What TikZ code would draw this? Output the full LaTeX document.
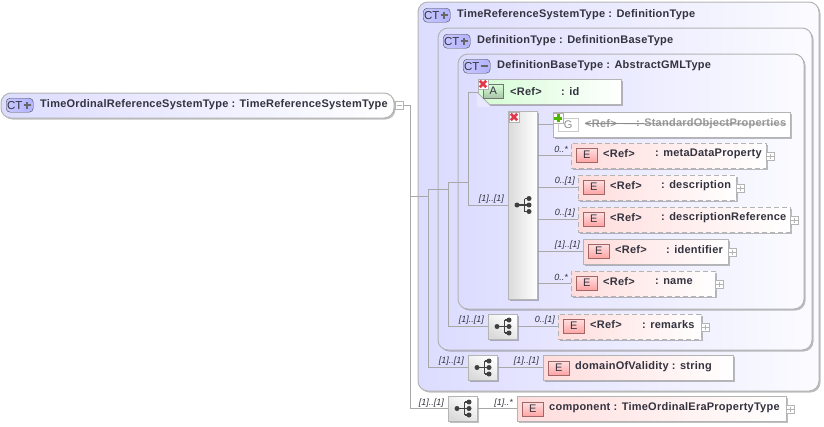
\documentclass[tikz,border=0pt]{standalone}
\usepackage{fontspec}
\setmainfont{Liberation Sans}
\newfontfamily\lblfont[LetterSpace=2.2]{Liberation Sans}
\usetikzlibrary{shadows}
\definecolor{txtcol}{HTML}{33333F}
\definecolor{linecol}{HTML}{A8A8A8}
\definecolor{boxedge}{HTML}{B4B4B4}
\definecolor{ctleft}{HTML}{DCDCFF}
\definecolor{ctright}{HTML}{FBFBFF}
\definecolor{elemleft}{HTML}{FFDCDC}
\definecolor{attrleft}{HTML}{D4FCD4}
\definecolor{seqdark}{HTML}{DADADA}
\definecolor{xred}{HTML}{E03848}
\tikzset{
  softshadow/.style={drop shadow={shadow xshift=1.5pt,shadow yshift=-1.5pt,fill=black,opacity=.25}},
  conn/.style={draw=linecol,line width=.8pt},
  boxbase/.style={anchor=north west,inner sep=0,outer sep=0,minimum height=25,softshadow},
  container/.style={boxbase,draw=boxedge,line width=1pt,rounded corners=10,left color=ctleft,right color=ctright},
  elembox/.style={boxbase,draw=boxedge,line width=.8pt,left color=elemleft,right color=white},
  optelem/.style={elembox,dash pattern=on 5pt off 3pt},
  seqbox/.style={boxbase,draw=boxedge,line width=.8pt,top color=white,bottom color=seqdark,shading angle=-30},
  lbl/.style={anchor=west,inner sep=0,text=txtcol,font=\fontsize{11}{12}\lblfont\bfseries},
  cardlab/.style={anchor=east,inner sep=0,text=txtcol,font=\fontsize{9}{10}\selectfont\itshape},
  ebadge/.style={anchor=north west,inner sep=0,minimum width=21,minimum height=14,draw=black!60!red!60,
    top color=red!12,bottom color=red!36,text=txtcol,font=\fontsize{11}{12}\selectfont},
  ctbadge/.style={anchor=north west,inner sep=0,minimum width=27,minimum height=14,rounded corners=4,draw=black!70,
    left color=blue!22,right color=blue!30,text=txtcol,font=\fontsize{11.5}{12}\selectfont},
  signmark/.style={draw=black!60,line width=1.8pt},
  expbox/.style={inner sep=0,minimum size=8,draw=boxedge,fill=white,anchor=north west},
  expline/.style={draw=boxedge,line width=.7pt,shorten <=1.5pt,shorten >=1.5pt},
  iconbox/.style={inner sep=0,minimum size=10,anchor=north west,draw=black!30,fill=white},
  seqicon/.pic={
    \draw[black!75,line width=1.2pt] (-5.5,0) -- (2,0) (2,-6.5) -- (2,6.5) (2,-6.5) -- (6.5,-6.5) (2,6.5) -- (6.5,6.5) (2,0) -- (6.5,0);
    \fill[black!75] (-5.5,0) circle (2.5);
    \foreach \ry in {-6.5,0,6.5} \fill[black!75] (6.5,\ry) circle (2.5);
  }
}
\begin{document}
\begin{tikzpicture}[x=1pt,y=-1pt]
  \useasboundingbox (0,0) rectangle (824,426);

  % nested complex types
  \node[container,minimum width=401,minimum height=389] (outer) at (418,2) {};
  \node[container,minimum width=374,minimum height=322] (middle) at (438,28) {};
  \node[container,minimum width=346,minimum height=255] (inner) at (458,54) {};

  % root
  \node[container,right color=white,minimum width=393,minimum height=25] (root) at (1,93) {};
  \node[expbox] (rootexp) at (395,101) {};
  \draw[expline] (rootexp.west) -- (rootexp.east);

  % trunks
  \coordinate (t1) at (410,196);
  \coordinate (t2) at (428,189);
  \coordinate (t3) at (448,182);
  \coordinate (t4) at (468,92);
  \coordinate (t5) at (468,205);

  % sequence boxes
  \node[seqbox,left color=seqdark,right color=white,shading angle=90,minimum width=29,minimum height=188] (bigseq) at (508,111) {};
  \node[seqbox,minimum width=29] (remseq) at (488,314) {};
  \node[seqbox,minimum width=29] (domseq) at (468,355) {};
  \node[seqbox,minimum width=29] (comseq) at (448,396) {};
  \pic at (bigseq.center) {seqicon};
  \pic at (remseq.center) {seqicon};
  \pic at (domseq.center) {seqicon};
  \pic at (comseq.center) {seqicon};

  % attribute
  \node[boxbase,minimum width=143,draw=boxedge,line width=.8pt,left color=attrleft,right color=white] (attr) at (478,79) {};
  \fill[ctleft!70!white] (477,93) -- (477,107) -- (491,107) -- cycle;
  \draw[boxedge,line width=.8pt] (478,93) -- (489,104);
  \node[anchor=north west,inner sep=0,minimum width=20,minimum height=14,draw=black!55,top color=green!15,bottom color=green!35!black!35,
    text=txtcol,font=\fontsize{11}{12}\selectfont] (abadge) at (483,84) {A};
  \node[lbl] (attrref) at (510,91.5) {<Ref>};
  \node[lbl] (attrname) at (561,91.5) {: id};

  % connectors
  \draw[conn] (rootexp.east) -| (comseq.west -| t1) -- (comseq.west);
  \draw[conn] (t1) -- (428,196);
  \draw[conn] (t2) -- (domseq.west -| t2) -- (domseq.west);
  \draw[conn] (t2) -- (448,189);
  \draw[conn] (t3) -- (remseq.west -| t3) -- (remseq.west);
  \draw[conn] (t3) -- (468,182);
  \draw[conn] (t4) -- (t5) -- (bigseq.west |- t5);
  \draw[conn] (t4) -- (attr.west |- t4);

  % group
  \node[boxbase,minimum width=237,draw=boxedge,line width=.8pt,fill=white] (grp) at (553,112) {};
  \draw[conn] (bigseq.east |- grp.west) -- (grp.west);
  \node[anchor=north west,inner sep=0,minimum width=20,minimum height=13,draw=black!20,fill=white,text=black!45,font=\fontsize{11}{12}\selectfont] (gbadge) at (558,118) {G};
  \node[lbl,text=black!40] (grpref) at (585,123.5) {<Ref>};
  \node[lbl,text=black!40] (grpname) at (636,123.5) {: StandardObjectProperties};
  \draw[black!45,line width=.8pt] (grpref.west) -- (786,124);

  % elements
  \foreach \nm/\x/\y/\w/\sty/\card/\ref/\txt/\gap in {
    meta/571/143/195/optelem/{0..*}/{<Ref>}/{: metaDataProperty}/84,
    descr/578/175/158/optelem/{0..[1]}/{<Ref>}/{: description}/83,
    descref/578/207/212/optelem/{0..[1]}/{<Ref>}/{: descriptionReference}/83,
    ident/583/239/145/elembox/{[1]..[1]}/{<Ref>}/{: identifier}/83,
    name/571/271/144/optelem/{0..*}/{<Ref>}/{: name}/84,
    remarks/558/314/143/optelem/{0..[1]}/{<Ref>}/{: remarks}/84}
  {
    \node[\sty,minimum width=\w] (\nm) at (\x,\y) {};
    \node[ebadge] (e\nm) at ({\x+5},{\y+5}) {E};
    \node[lbl] (r\nm) at ({\x+32},{\y+11}) {\ref};
    \node[lbl] (t\nm) at ({\x+\gap},{\y+11}) {\txt};
    \node[cardlab] (c\nm) at ({\x-3},{\y+6}) {\card};
    \node[expbox] (x\nm) at ({\x+\w},{\y+9}) {};
    \draw[expline] (x\nm.west) -- (x\nm.east) (x\nm.north) -- (x\nm.south);
  }
  \foreach \nm in {meta,descr,descref,ident,name}
    \draw[conn] (bigseq.east |- \nm.west) -- (\nm.west);
  \draw[conn] (remseq.east) -- (remarks.west);

  \node[elembox,minimum width=190] (domain) at (543,355) {};
  \node[ebadge] (edomain) at (548,361) {E};
  \node[lbl] (tdomain) at (575,366.5) {domainOfValidity : string};
  \draw[conn] (domseq.east) -- (domain.west);

  \node[elembox,minimum width=269] (comp) at (517,396) {};
  \node[ebadge] (ecomp) at (522,402) {E};
  \node[lbl] (tcomp) at (549,407.5) {component : TimeOrdinalEraPropertyType};
  \node[expbox] (xcomp) at (786,405) {};
  \draw[expline] (xcomp.west) -- (xcomp.east) (xcomp.north) -- (xcomp.south);
  \draw[conn] (comseq.east) -- (comp.west);

  % occurrences on the sequence boxes
  \node[cardlab] (c1) at (504,199) {[1]..[1]};
  \node[cardlab] (c2) at (484,320) {[1]..[1]};
  \node[cardlab] (c3) at (464,361) {[1]..[1]};
  \node[cardlab] (c4) at (539,361) {[1]..[1]};
  \node[cardlab] (c5) at (444,403) {[1]..[1]};
  \node[cardlab] (c6) at (513,403) {[1]..*};

  % titles
  \foreach \nm/\x/\y/\txt/\sgn in {
    broot/6/98/{TimeOrdinalReferenceSystemType : TimeReferenceSystemType}/1,
    bouter/423/8/{TimeReferenceSystemType : DefinitionType}/1,
    bmiddle/443/34/{DefinitionType : DefinitionBaseType}/1,
    binner/463/59/{DefinitionBaseType : AbstractGMLType}/0}
  {
    \node[ctbadge] (\nm) at (\x,\y) {\hspace*{-10pt}CT};
    \node[lbl] (l\nm) at ({\x+34},{\y+6.5}) {\txt};
    \draw[signmark] ({\x+17.5},{\y+7}) -- ({\x+24.5},{\y+7});
    \ifnum\sgn=1 \draw[signmark] ({\x+21},{\y+3.5}) -- ({\x+21},{\y+10.5}); \fi
  }

  % red and green markers
  \node[iconbox] (xattr) at (478,79) {};
  \draw[xred,line width=2.6pt] (xattr.north west) ++(1.8,1.8) -- ++(6.4,6.4) ++(-6.4,0) -- ++(6.4,-6.4);
  \node[iconbox] (xseq) at (509,112) {};
  \draw[xred,line width=2.6pt] (xseq.north west) ++(1.8,1.8) -- ++(6.4,6.4) ++(-6.4,0) -- ++(6.4,-6.4);
  \node[iconbox] (pgrp) at (553,113) {};
  \draw[green!60!black!70!yellow,line width=2.6pt] (pgrp.west) ++(1,0) -- ++(8,0) (pgrp.north) ++(0,1) -- ++(0,8);
\end{tikzpicture}
\end{document}
